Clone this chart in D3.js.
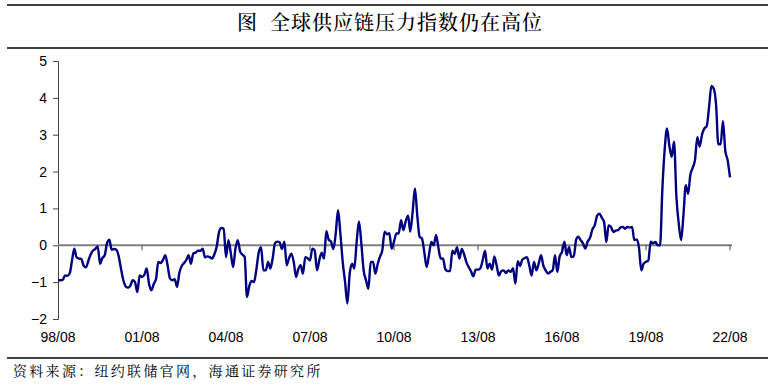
<!DOCTYPE html>
<meta charset="utf-8">
<style>
body { margin: 0; background: #fff; }
svg { display: block; font-family: Arial, "Liberation Sans", sans-serif; }
.title { font-family: "Noto Serif CJK SC", "Noto Sans CJK SC", serif; font-size: 20px; font-weight: 500; letter-spacing: 1px; }
.source { font-family: "Noto Serif CJK SC", "Noto Sans CJK SC", serif; font-size: 14px; letter-spacing: 2.3px; }
.rule { stroke: #000; stroke-width: 1.5; }
.yaxis path, .yaxis line { stroke: #444; }
.yaxis text, .xlabels text { font-size: 14px; fill: #000; }
.zero { stroke: #808080; stroke-width: 2; }
.series { fill: none; stroke: #000080; stroke-width: 2.4; stroke-linejoin: round; }
</style>
<svg width="780" height="388"></svg>
<script src="https://d3js.org/d3.v7.min.js"></script>
<script>
// monthly index, 1998/08 .. 2022/08
var startYear = 1998, startMonth = 7;
var tickLabels = ["98/08", "01/08", "04/08", "07/08", "10/08", "13/08", "16/08", "19/08", "22/08"];
var yTicks = [-2, -1, 0, 1, 2, 3, 4, 5];

var gscpi = [
  -0.95, -0.95, -0.94, -0.82, -0.83, -0.76, -0.40, -0.09, -0.33, -0.36,
  -0.37, -0.55, -0.60, -0.42, -0.25, -0.14, -0.10, -0.03, -0.50, -0.35,
  -0.27, 0.05, 0.15, -0.12, -0.10, -0.12, -0.30, -0.65, -0.95, -1.12,
  -1.15, -1.10, -0.95, -1.00, -1.27, -0.82, -0.86, -0.80, -0.63, -1.05,
  -1.22, -1.05, -0.90, -0.45, -0.48, -0.40, -0.27, -0.55, -0.90, -0.95,
  -0.92, -1.13, -0.75, -0.56, -0.48, -0.40, -0.27, -0.50, -0.22, -0.20,
  -0.15, -0.15, -0.09, -0.33, -0.30, -0.32, -0.36, -0.25, -0.04, 0.35,
  0.47, 0.45, -0.32, 0.14, -0.20, -0.59, -0.10, 0.14, -0.17, -0.25,
  -0.32, -1.40, -1.10, -0.97, -1.00, -0.65, -0.20, -0.05, -0.68, -0.68,
  -0.45, -0.63, -0.36, 0.05, 0.10, 0.08, -0.10, 0.10, -0.54, -0.35,
  -0.23, -0.45, -0.86, -0.65, -0.54, -0.77, -0.32, -0.35, -0.41, -0.09,
  -0.14, -0.68, -0.40, -0.20, -0.36, 0.38, 0.15, 0.10, -0.10, 0.30,
  0.95, 0.30, -0.45, -1.00, -1.58, -0.75, -0.50, -0.63, 0.10, 0.65,
  0.05, -0.68, -0.95, -1.18, -0.45, -0.45, -0.77, -0.50, -0.30, -0.14,
  0.37, 0.30, 0.33, -0.09, 0.10, 0.32, 0.32, 0.68, 0.41, 0.65,
  0.80, 0.37, 0.90, 1.54, 0.80, 0.23, 0.18, -0.20, -0.59, -0.25,
  0.09, 0.00, 0.28, -0.05, -0.36, -0.36, -0.65, -0.70, -0.70, -0.15,
  -0.23, -0.05, -0.36, -0.10, -0.25, -0.45, -0.59, -0.70, -0.84, -0.66,
  -0.66, -0.62, -0.40, -0.15, -0.63, -0.50, -0.66, -0.30, -0.55, -0.82,
  -0.70, -0.68, -0.75, -0.68, -0.72, -0.62, -1.04, -0.43, -0.56, -0.39,
  -0.35, -0.32, -0.55, -0.82, -0.45, -0.68, -0.50, -0.27, -0.55, -0.68,
  -0.77, -0.72, -0.68, -0.27, -0.72, -0.30, -0.18, 0.10, -0.27, -0.05,
  -0.32, -0.30, 0.15, 0.23, 0.14, 0.05, -0.09, 0.10, 0.20, 0.43,
  0.54, 0.80, 0.86, 0.75, 0.63, 0.09, 0.54, 0.50, 0.36, 0.40,
  0.41, 0.48, 0.50, 0.45, 0.50, 0.48, 0.50, 0.14, 0.16, -0.05,
  -0.68, -0.50, -0.45, -0.41, 0.10, 0.05, 0.09, 0.00, 0.00, 1.49,
  2.60, 3.17, 2.70, 2.40, 2.81, 1.31, 0.60, 0.14, 0.80, 1.63,
  1.40, 1.90, 2.10, 2.31, 2.93, 2.68, 3.00, 3.17, 3.23, 3.75,
  4.32, 4.25, 3.80, 2.74, 2.74, 3.37, 2.56, 2.31, 1.84
];

var svg = d3.select("svg");

var data = gscpi.map(function(v, i) {
  return { date: new Date(startYear, startMonth + i, 1), value: v };
});

var x = d3.scaleTime()
    .domain([data[0].date, data[data.length - 1].date])
    .range([58, 730]);

var y = d3.scaleLinear()
    .domain([-2, 5])
    .range([319, 61]);

var tickDates = tickLabels.map(function(d, i) { return new Date(startYear + 3 * i, startMonth, 1); });

// title + rules
svg.append("line").attr("class", "rule").attr("x1", 7).attr("x2", 768).attr("y1", 5).attr("y2", 5);
svg.append("line").attr("class", "rule").attr("x1", 7).attr("x2", 768).attr("y1", 48).attr("y2", 48);
svg.append("line").attr("class", "rule").attr("x1", 7).attr("x2", 768).attr("y1", 358).attr("y2", 358);

svg.append("text")
    .attr("class", "title")
    .attr("x", 390)
    .attr("y", 30)
    .attr("text-anchor", "middle")
    .style("white-space", "pre")
    .text("图  全球供应链压力指数仍在高位");

svg.append("text")
    .attr("class", "source")
    .attr("x", 13)
    .attr("y", 376)
    .text("资料来源：纽约联储官网，海通证券研究所");

// y axis
svg.append("g")
    .attr("class", "yaxis")
    .attr("transform", "translate(58,0)")
    .call(d3.axisLeft(y).tickValues(yTicks).tickSize(5).tickSizeOuter(5).tickPadding(6).tickFormat(d3.format("d")))
  .selectAll("text")
    .attr("font-family", "Arial, 'Liberation Sans', sans-serif");

// zero line with small ticks
svg.append("line")
    .attr("class", "zero")
    .attr("x1", 58).attr("x2", x.range()[1] + 2)
    .attr("y1", y(0)).attr("y2", y(0));

svg.append("g")
    .selectAll("line")
    .data(tickDates.slice(1))
    .enter().append("line")
    .attr("x1", function(d) { return x(d); })
    .attr("x2", function(d) { return x(d); })
    .attr("y1", y(0))
    .attr("y2", y(0) + 5)
    .attr("stroke", "#444")
    .attr("stroke-width", 1);

// bottom labels
svg.append("g")
    .attr("class", "xlabels")
    .selectAll("text")
    .data(tickDates)
    .enter().append("text")
    .attr("x", function(d) { return x(d); })
    .attr("y", 342)
    .attr("text-anchor", "middle")
    .text(function(d, i) { return tickLabels[i]; });

// series
var line = d3.line()
    .x(function(d) { return x(d.date); })
    .y(function(d) { return y(d.value); })
    .curve(d3.curveMonotoneX);

svg.append("path")
    .datum(data)
    .attr("class", "series")
    .attr("d", line);
</script>
